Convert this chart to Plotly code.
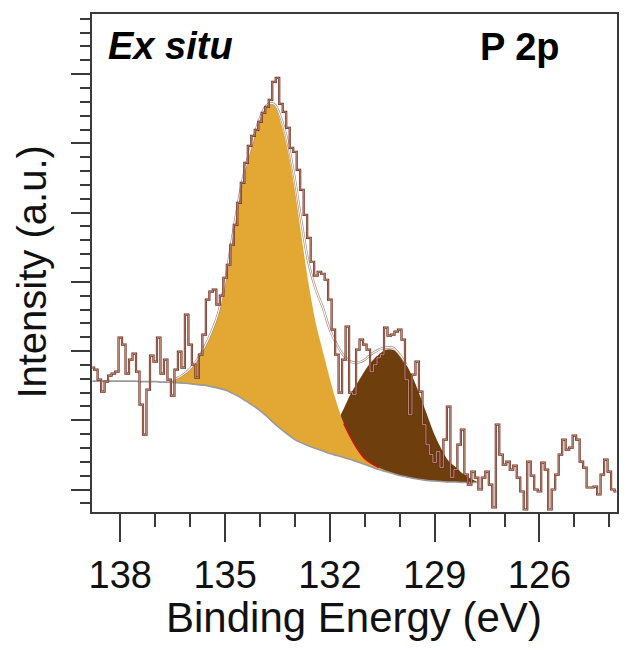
import numpy as np
import plotly.graph_objects as go

# ---- measured P 2p spectrum (0.1 eV steps, 138.8 -> 123.8 eV) ----
energy = np.round(138.8 - 0.1 * np.arange(151), 1)
counts = [
    144.5, 142.5, 132.5, 120.5, 130.5, 136.5, 138.5, 140.5, 174.5, 167.5,
    138.5, 152.5, 158.5, 140.5, 107.5, 77.5, 122.5, 156.5, 150.5, 174.5,
    138.5, 152.5, 132.5, 116.5, 142.5, 160.5, 144.5, 197.5, 167.5, 147.5,
    134.5, 157.5, 177.5, 212.5, 220.5, 222.5, 207.5, 216.5, 234.5, 247.5,
    267.5, 287.5, 309.5, 329.5, 349.5, 366.5, 376.5, 382.5, 390.5, 399.5,
    405.5, 412.5, 430.5, 434.5, 408.5, 400.5, 384.5, 364.5, 360.5, 342.5,
    322.5, 297.5, 274.5, 250.5, 236.5, 240.5, 238.5, 232.5, 212.5, 182.5,
    157.5, 119.5, 152.5, 185.5, 119.5, 117.5, 162.5, 172.5, 167.5, 162.5,
    140.5, 147.5, 154.5, 157.5, 184.5, 176.5, 177.5, 180.5, 182.5, 172.5,
    132.5, 97.5, 137.5, 150.5, 120.5, 87.5, 67.5, 57.5, 49.5, 60.5,
    44.5, 72.5, 105.5, 34.5, 42.5, 67.5, 82.5, 37.5, 27.5, 40.5,
    34.5, 22.5, 34.5, 40.5, 27.5, 4.5, 87.5, 57.5, 47.5, 50.5,
    42.5, 46.5, 34.5, 20.5, 2.5, 50.5, 36.5, 22.5, 20.5, 49.5,
    42.5, 2.5, 22.5, 37.5, 57.5, 72.5, 62.5, 64.5, 76.5, 72.5,
    50.5, 44.5, 24.5, 24.5, 25.5, 17.5, 37.5, 52.5, 40.5, 22.5,
    20.5,
]

# ---- fit results (0.2 eV steps, 138.8 -> 127.8 eV) ----
energy_fit = np.round(138.8 - 0.2 * np.arange(56), 1)
background = [
    131, 131, 131, 131, 131, 131, 131, 130.5, 130.5, 130.5,
    130, 130, 129.5, 129, 128.5, 127.5, 127, 125.5, 124, 122,
    119, 115.5, 111, 106.5, 101.5, 95.5, 89, 83, 77.5, 72.5,
    69, 66, 63.5, 61, 58.5, 56.5, 54.5, 52.5, 50, 47.5,
    45, 42.5, 40.5, 38.5, 36.5, 35, 33.5, 32.5, 31.5, 31,
    30.5, 30, 30, 29.5, 29.5, 29.5,
]
comp_high = [  # P-O component (~133.6 eV)
    0, 0, 0, 0, 0, 0, 0, 0, 0, 0,
    0, 0.5, 4, 8.5, 15, 25, 37.5, 54, 74.5, 108.5,
    154.5, 199, 236.5, 266, 293, 312, 318, 306.5, 284, 249,
    203.5, 160.5, 125, 99.5, 75, 52, 34, 22, 12.5, 6,
    3.5, 2, 1, 0.5, 0, 0, 0, 0, 0, 0,
    0, 0, 0, 0, 0, 0,
]
comp_low = [  # reduced P component (~130.2 eV)
    0, 0, 0, 0, 0, 0, 0, 0, 0, 0,
    0, 0, 0, 0, 0, 0, 0, 0, 0, 0,
    0, 0, 0, 0, 0, 0, 0, 0, 0, 0,
    0, 3, 6, 11, 18, 33, 49, 66, 80, 94,
    106, 115, 122, 124, 121, 112, 99, 82, 64, 46,
    32, 21, 15, 9, 4.5, 1,
]
# fit envelope, 136.4 -> 129.8 eV
energy_env = np.round(136.4 - 0.2 * np.arange(34), 1)
envelope = [
    133.5, 137.5, 143.5, 152.5, 164.5, 179.5, 198.5, 230.5, 273.5, 314.5,
    347.5, 372.5, 394.5, 407.5, 408.5, 394.5, 369.5, 332.5, 287.5, 247.5,
    222.5, 204.5, 182.5, 167.5, 156.5, 150.5, 149.5, 152.5, 158.5, 162.5,
    164.5, 164.5, 157.5, 147,
]

ORANGE = "#E3A834"
BROWN = "#6E3E0C"
FONT = "Liberation Sans, Arial, sans-serif"
AX = "#3a3a3a"

bg = np.array(background)
top_high = bg + np.array(comp_high)
top_low = bg + np.array(comp_low)

fig = go.Figure()


def add(tr):
    fig.add_trace(tr)


# low-energy component (drawn first, partly under the main peak)
add(go.Scatter(x=energy_fit, y=bg, mode="lines", line=dict(width=0, shape="spline"),
               hoverinfo="skip", showlegend=False))
add(go.Scatter(x=energy_fit, y=top_low, mode="lines", fill="tonexty", fillcolor=BROWN,
               line=dict(width=0, shape="spline"), hoverinfo="skip", showlegend=False))
# main component
add(go.Scatter(x=energy_fit, y=bg, mode="lines", line=dict(width=0, shape="spline"),
               hoverinfo="skip", showlegend=False))
add(go.Scatter(x=energy_fit, y=top_high, mode="lines", fill="tonexty", fillcolor=ORANGE,
               line=dict(width=0, shape="spline"), hoverinfo="skip", showlegend=False))
# edge of the main component where it borders the low-energy one
sel = (energy_fit <= 131.6) & (energy_fit >= 130.6)
add(go.Scatter(x=energy_fit[sel], y=top_high[sel], mode="lines",
               line=dict(color="#C81800", width=1.6, shape="spline"),
               hoverinfo="skip", showlegend=False))
# Shirley background
add(go.Scatter(x=energy_fit, y=bg, mode="lines",
               line=dict(color="#9a9a9a", width=1.6, shape="spline"),
               hoverinfo="skip", showlegend=False))
# envelope
add(go.Scatter(x=energy_env, y=envelope, mode="lines",
               line=dict(color="#a8887c", width=2.4, shape="spline"),
               hoverinfo="skip", showlegend=False))
add(go.Scatter(x=energy_env, y=envelope, mode="lines",
               line=dict(color="#ffffff", width=1.1, shape="spline"),
               hoverinfo="skip", showlegend=False))
# raw data
add(go.Scatter(x=energy, y=counts, mode="lines",
               line=dict(color="#6a2818", width=2.2, shape="hvh"),
               hoverinfo="skip", showlegend=False))
add(go.Scatter(x=energy, y=counts, mode="lines",
               line=dict(color="#dcb4a6", width=0.7, shape="hvh"),
               hoverinfo="skip", showlegend=False))

fig.update_layout(
    width=625, height=650,
    margin=dict(l=91.5, r=6, t=14, b=137.5),
    paper_bgcolor="white", plot_bgcolor="white",
    font=dict(family=FONT, color="#111111"),
    showlegend=False,
)
fig.update_xaxes(
    range=[138.81, 123.78], tick0=138, dtick=3,
    ticks="outside", ticklen=28, tickwidth=2, tickcolor=AX,
    tickfont=dict(size=38, family=FONT, color="#111111"),
    showline=True, linewidth=2, linecolor=AX, mirror=True,
    showgrid=False, zeroline=False,
    minor=dict(dtick=1, tick0=138, ticks="outside", ticklen=13, tickwidth=2,
               tickcolor=AX, showgrid=False),
)
fig.update_yaxes(
    range=[0, 498.5], tick0=22.5, dtick=69.3, showticklabels=False,
    ticks="outside", ticklen=19, tickwidth=2, tickcolor=AX,
    showline=True, linewidth=2, linecolor=AX, mirror=True,
    showgrid=False, zeroline=False,
    minor=dict(tick0=22.5, dtick=13.86, ticks="outside", ticklen=10, tickwidth=2,
               tickcolor=AX, showgrid=False),
)

fig.add_annotation(text="<b><i>Ex situ</i></b>", xref="paper", yref="paper",
                   x=0.0275, y=0.9358, xanchor="left", yanchor="middle",
                   showarrow=False, font=dict(size=38, family=FONT, color="#000"))
fig.add_annotation(text="<b>P 2p</b>", xref="paper", yref="paper",
                   x=0.816, y=0.9338, xanchor="center", yanchor="middle",
                   showarrow=False, font=dict(size=38, family=FONT, color="#000"))
fig.add_annotation(text="Binding Energy (eV)", xref="paper", yref="paper",
                   x=0.4981, y=-0.2116, xanchor="center", yanchor="middle",
                   showarrow=False, font=dict(size=42, family=FONT, color="#111"))
fig.add_annotation(text="Intensity (a.u.)", xref="paper", yref="paper",
                   x=-0.1146, y=0.4824, xanchor="center", yanchor="middle",
                   textangle=-90, showarrow=False,
                   font=dict(size=40, family=FONT, color="#111"))

fig.write_html("out.html")
